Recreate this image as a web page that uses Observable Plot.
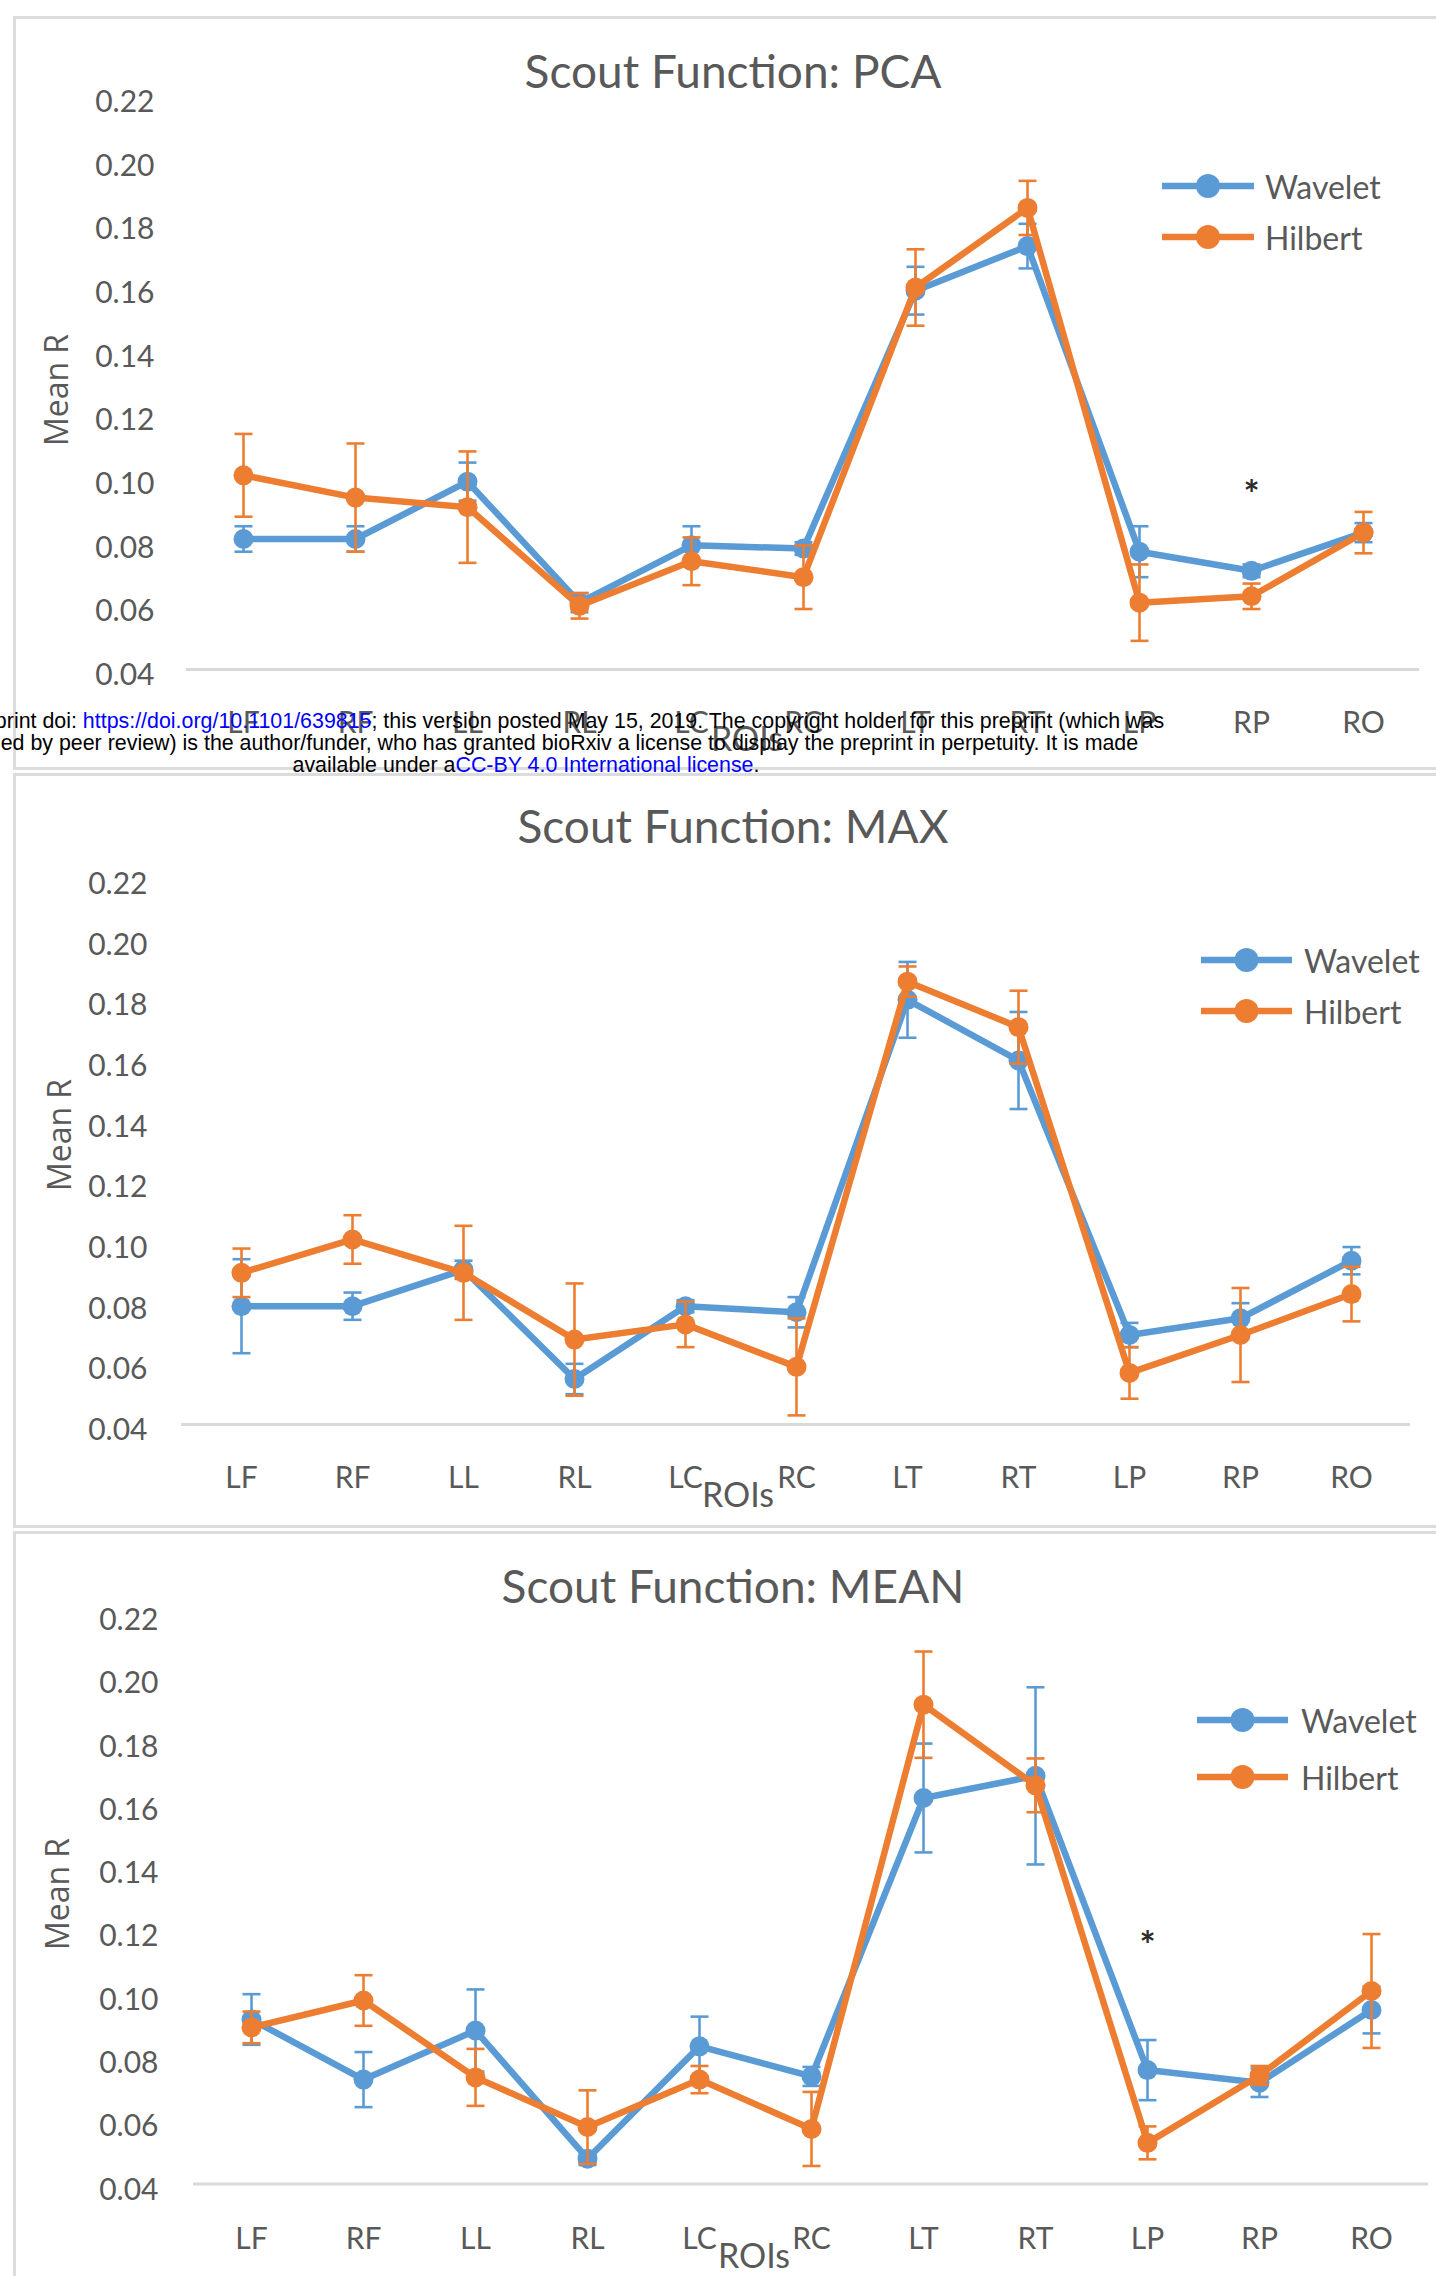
<!DOCTYPE html>
<html>
<head>
<meta charset="utf-8">
<script src="https://cdn.jsdelivr.net/npm/d3@7"></script>
<script src="https://cdn.jsdelivr.net/npm/@observablehq/plot@0.6"></script>
<style>
  html, body { margin: 0; padding: 0; background: #fff; }
  body { position: relative; width: 1436px; height: 2276px; overflow: hidden; font-family: Lato, sans-serif; }
  .panel { position: absolute; left: 13px; width: 1460px; border: 3px solid #dcdcdc; box-sizing: border-box; background: #fff; }
  .chart { position: absolute; left: 0; }
  .title { position: absolute; transform: translate(-50%, -50%); font-family: Lato, sans-serif; font-size: 46px; color: #595959; white-space: nowrap; }
  .ylab { position: absolute; transform: translate(-50%, -50%) rotate(-90deg); font-family: "Open Sans", sans-serif; font-size: 32px; color: #595959; white-space: nowrap; }
  .xlab { position: absolute; transform: translate(-50%, -50%); font-family: Lato, sans-serif; font-size: 34px; color: #595959; white-space: nowrap; }
  .legend-swatch { position: absolute; overflow: visible; }
  .legend-text { position: absolute; transform: translateY(-50%); font-family: Lato, sans-serif; font-size: 32px; color: #595959; white-space: nowrap; }
  .stamp { position: absolute; left: -174px; top: 711px; width: 1400px; text-align: center; font-family: "Liberation Sans", Arial, sans-serif; font-size: 21.4px; line-height: 21.8px; color: #000; white-space: nowrap; z-index: 5; }
  .stamp a { color: #0000ff; text-decoration: none; }
</style>
</head>
<body>
<div class="stamp">
  <div>bioRxiv preprint doi: <a href="https://doi.org/10.1101/639815">https://doi.org/10.1101/639815</a>; this version posted May 15, 2019. The copyright holder for this preprint (which was</div>
  <div>not certified by peer review) is the author/funder, who has granted bioRxiv a license to display the preprint in perpetuity. It is made</div>
  <div>available under a<a href="http://creativecommons.org/licenses/by/4.0/">CC-BY 4.0 International license</a>.</div>
</div>
<script>
// Regions of interest along the x axis
const rois = ["LF", "RF", "LL", "RL", "LC", "RC", "LT", "RT", "LP", "RP", "RO"];
const seriesNames = ["Wavelet", "Hilbert"];
const yTicks = [0.04, 0.06, 0.08, 0.10, 0.12, 0.14, 0.16, 0.18, 0.20, 0.22];

// Scout function: PCA (mean R and error half-width per ROI)
const pcaWavelet    = [0.081, 0.081, 0.099, 0.061, 0.079, 0.078, 0.159, 0.173, 0.077, 0.071, 0.083];
const pcaWaveletErr = [0.004, 0.004, 0.006, 0.003, 0.006, 0.002, 0.0075, 0.007, 0.008, 0.002, 0.003];
const pcaHilbert    = [0.101, 0.094, 0.091, 0.060, 0.074, 0.069, 0.160, 0.185, 0.061, 0.063, 0.083];
const pcaHilbertErr = [0.013, 0.017, 0.0175, 0.004, 0.0075, 0.010, 0.012, 0.0085, 0.012, 0.004, 0.0065];

// Scout function: MAX
const maxWavelet    = [0.079, 0.079, 0.091, 0.055, 0.079, 0.077, 0.180, 0.160, 0.0695, 0.075, 0.094];
const maxWaveletErr = [0.0155, 0.0045, 0.003, 0.005, 0.002, 0.005, 0.0125, 0.016, 0.004, 0.005, 0.0045];
const maxHilbert    = [0.090, 0.101, 0.090, 0.068, 0.073, 0.059, 0.186, 0.171, 0.057, 0.0695, 0.083];
const maxHilbertErr = [0.008, 0.008, 0.0155, 0.0185, 0.0075, 0.016, 0.005, 0.012, 0.0085, 0.0155, 0.009];

// Scout function: MEAN
const meanWavelet    = [0.092, 0.073, 0.0885, 0.048, 0.0835, 0.074, 0.162, 0.169, 0.076, 0.072, 0.095];
const meanWaveletErr = [0.008, 0.0087, 0.013, 0.002, 0.0094, 0.003, 0.0172, 0.028, 0.0095, 0.0045, 0.0074];
const meanHilbert    = [0.0895, 0.098, 0.0737, 0.058, 0.073, 0.0574, 0.1915, 0.166, 0.053, 0.0743, 0.101];
const meanHilbertErr = [0.005, 0.008, 0.009, 0.0116, 0.0043, 0.0117, 0.0168, 0.0085, 0.0052, 0.003, 0.018];

// Significance markers
const pcaStars  = [{roi: "RP", value: 0.098}];
const maxStars  = [];
const meanStars = [{roi: "LP", value: 0.1185}];

const colors = {Wavelet: "#5B9BD5", Hilbert: "#ED7D31"};

// Horizontal cap for error bars, sized by the dot radius
const capSymbol = {
  draw(context, size) {
    const h = Math.sqrt(size / Math.PI);
    context.moveTo(-h, 0);
    context.lineTo(h, 0);
  }
};

function rowsFor(values, errs) {
  return rois.map((roi, i) => ({roi, v: values[i], e: errs[i]}));
}

function seriesMarks(rows, color) {
  return [
    Plot.ruleX(rows, {x: "roi", y1: d => d.v - d.e, y2: d => d.v + d.e, stroke: color, strokeWidth: 2.6}),
    Plot.dot(rows, {x: "roi", y: d => d.v + d.e, symbol: capSymbol, r: 9, stroke: color, strokeWidth: 2.6, fill: "none"}),
    Plot.dot(rows, {x: "roi", y: d => d.v - d.e, symbol: capSymbol, r: 9, stroke: color, strokeWidth: 2.6, fill: "none"}),
    Plot.line(rows, {x: "roi", y: "v", stroke: color, strokeWidth: 6.5, strokeLinejoin: "round", strokeLinecap: "round"}),
    Plot.dot(rows, {x: "roi", y: "v", r: 10, fill: color})
  ];
}

function addText(cls, text, x, y) {
  const el = document.createElement("div");
  el.className = cls;
  el.textContent = text;
  el.style.left = x + "px";
  el.style.top = y + "px";
  document.body.appendChild(el);
  return el;
}

function addLegend(x1, x2, textX, ys) {
  seriesNames.forEach((name, i) => {
    const w = x2 - x1;
    const svg = d3.create("svg")
      .attr("class", "legend-swatch")
      .attr("width", w).attr("height", 30)
      .style("left", x1 + "px").style("top", (ys[i] - 15) + "px");
    svg.append("line").attr("x1", 0).attr("x2", w).attr("y1", 15).attr("y2", 15)
      .attr("stroke", colors[name]).attr("stroke-width", 6.5);
    svg.append("circle").attr("cx", w / 2).attr("cy", 15).attr("r", 12).attr("fill", colors[name]);
    document.body.appendChild(svg.node());
    addText("legend-text", name, textX, ys[i]);
  });
}

function drawPanel(p) {
  // panel frame
  const box = document.createElement("div");
  box.className = "panel";
  box.style.top = p.boxTop + "px";
  box.style.height = p.boxHeight + "px";
  document.body.appendChild(box);

  const wav = rowsFor(p.wavelet, p.waveletErr);
  const hil = rowsFor(p.hilbert, p.hilbertErr);

  const chart = Plot.plot({
    width: 1436,
    height: p.height,
    marginLeft: p.xLeft,
    marginRight: 1436 - p.xRight,
    marginTop: p.yTop - p.top,
    marginBottom: p.top + p.height - p.yBottom,
    style: {fontFamily: "Lato, sans-serif", color: "#595959", background: "transparent", overflow: "visible"},
    x: {type: "point", domain: rois, padding: 0.5},
    y: {domain: [0.04, 0.22]},
    marks: [
      Plot.ruleY([0.04], {stroke: "#d9d9d9", strokeWidth: 3}),
      Plot.axisY(yTicks, {tickSize: 0, tickPadding: p.yPad, fontSize: 30, dy: 6, tickFormat: d3.format(".2f"), label: null}),
      Plot.axisX({tickSize: 0, tickPadding: p.xPad, fontSize: 30, label: null}),
      ...seriesMarks(wav, colors.Wavelet),
      ...seriesMarks(hil, colors.Hilbert),
      Plot.text(p.stars, {x: "roi", y: "value", text: () => "*", fontSize: 38, fontWeight: "bold", fill: "#2b2b2b", dy: 11})
    ]
  });
  chart.classList.add("chart");
  chart.style.top = p.top + "px";
  document.body.appendChild(chart);

  addText("title", p.title, 733, p.titleY);
  addText("ylab", "Mean R", p.yLabX, p.yLabY);
  addText("xlab", "ROIs", p.roisX, p.roisY);
  addLegend(p.legX1, p.legX2, p.legTextX, p.legY);
}

drawPanel({
  title: "Scout Function: PCA", titleY: 70,
  boxTop: 16, boxHeight: 754,
  top: 16, height: 754, xLeft: 186, xRight: 1419, yTop: 96, yBottom: 669,
  yPad: 32, xPad: 42,
  wavelet: pcaWavelet, waveletErr: pcaWaveletErr, hilbert: pcaHilbert, hilbertErr: pcaHilbertErr,
  stars: pcaStars,
  yLabX: 55, yLabY: 390, roisX: 747, roisY: 737,
  legX1: 1162, legX2: 1254, legTextX: 1265, legY: [186, 237]
});

drawPanel({
  title: "Scout Function: MAX", titleY: 825,
  boxTop: 773, boxHeight: 755,
  top: 773, height: 755, xLeft: 181, xRight: 1410, yTop: 878, yBottom: 1424,
  yPad: 34, xPad: 42,
  wavelet: maxWavelet, waveletErr: maxWaveletErr, hilbert: maxHilbert, hilbertErr: maxHilbertErr,
  stars: maxStars,
  yLabX: 58, yLabY: 1135, roisX: 738, roisY: 1493,
  legX1: 1201, legX2: 1292, legTextX: 1304, legY: [960, 1011]
});

drawPanel({
  title: "Scout Function: MEAN", titleY: 1585,
  boxTop: 1531, boxHeight: 800,
  top: 1531, height: 745, xLeft: 193, xRight: 1428, yTop: 1614, yBottom: 2183.5,
  yPad: 35, xPad: 44,
  wavelet: meanWavelet, waveletErr: meanWaveletErr, hilbert: meanHilbert, hilbertErr: meanHilbertErr,
  stars: meanStars,
  yLabX: 56, yLabY: 1894, roisX: 754, roisY: 2254,
  legX1: 1197, legX2: 1288, legTextX: 1301, legY: [1720, 1777]
});
</script>
</body>
</html>
